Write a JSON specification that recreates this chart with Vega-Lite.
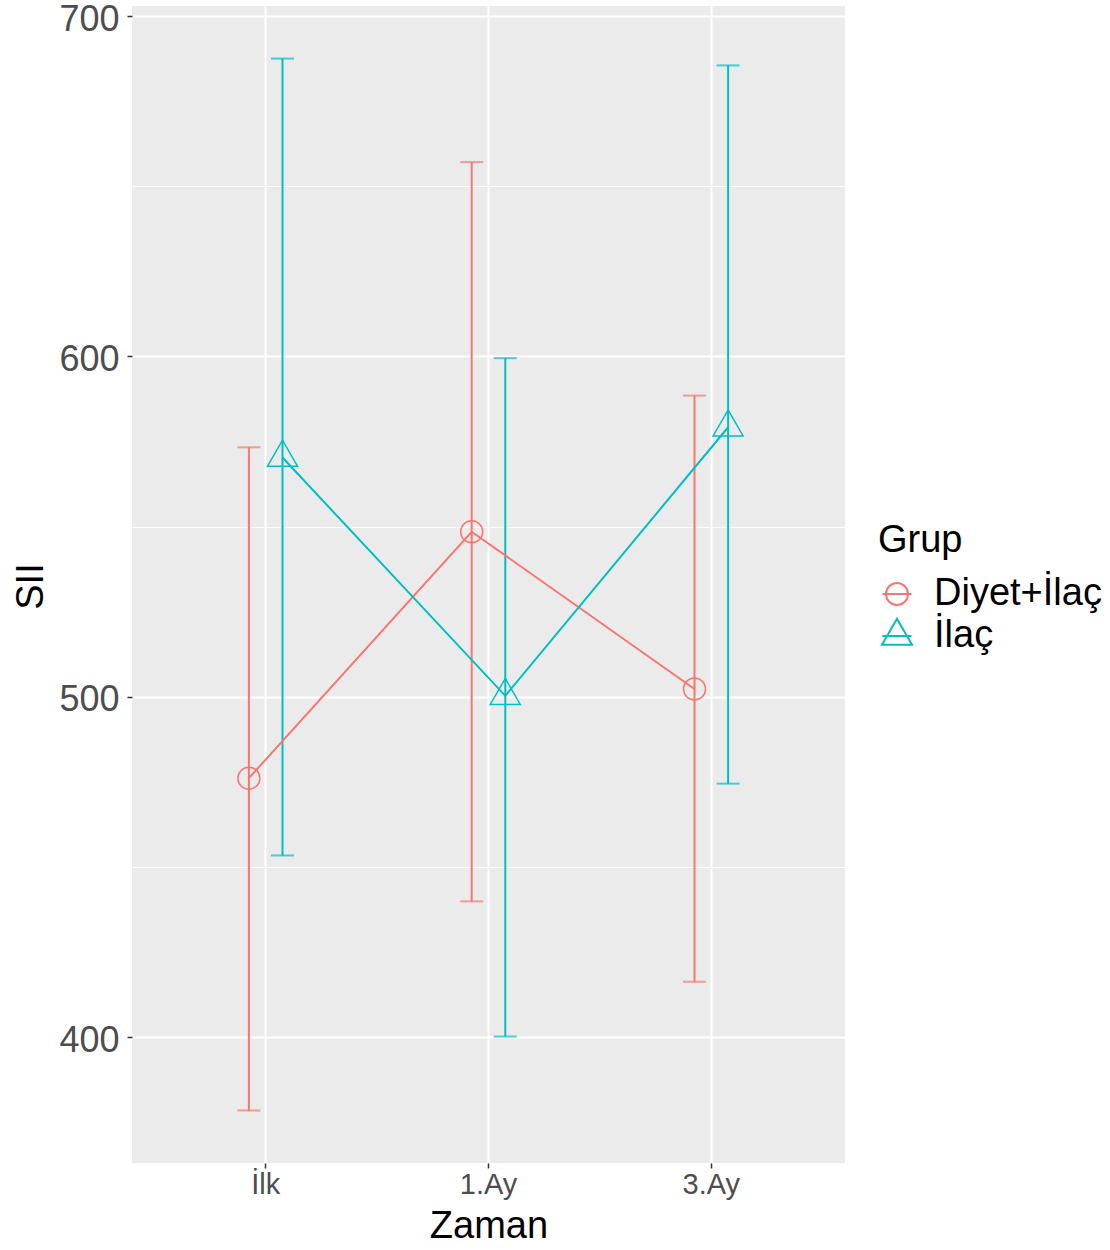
{
  "$schema": "https://vega.github.io/schema/vega-lite/v6.json",
  "autosize": {"type": "none"},
  "width": 713,
  "height": 1157,
  "padding": {"left": 132, "top": 6, "right": 265, "bottom": 87},
  "background": "#FFFFFF",
  "data": {
    "values": [
      {"grup": "Diyet+İlaç", "zaman": "İlk", "ortalama": 476.1, "alt": 378.5, "ust": 573.3},
      {"grup": "Diyet+İlaç", "zaman": "1.Ay", "ortalama": 548.5, "alt": 439.9, "ust": 657.1},
      {"grup": "Diyet+İlaç", "zaman": "3.Ay", "ortalama": 502.3, "alt": 416.3, "ust": 588.5},
      {"grup": "İlaç", "zaman": "İlk", "ortalama": 570.3, "alt": 453.4, "ust": 687.5},
      {"grup": "İlaç", "zaman": "1.Ay", "ortalama": 500.3, "alt": 400.2, "ust": 599.5},
      {"grup": "İlaç", "zaman": "3.Ay", "ortalama": 579.2, "alt": 474.5, "ust": 685.5}
    ]
  },
  "encoding": {
    "x": {
      "field": "zaman",
      "type": "nominal",
      "sort": ["İlk", "1.Ay", "3.Ay"],
      "scale": {"type": "band", "paddingInner": 0.6, "paddingOuter": 0.4},
      "axis": {
        "bandPosition": 0.5,
        "grid": true,
        "gridWidth": 2,
        "labelAngle": 0,
        "labelFontSize": 29,
        "labelPadding": 2,
        "title": "Zaman",
        "titleFontSize": 38,
        "titleY": 74,
        "titleBaseline": "alphabetic"
      }
    },
    "xOffset": {
      "field": "grup",
      "type": "nominal",
      "sort": ["Diyet+İlaç", "İlaç"],
      "scale": {"paddingInner": 0, "paddingOuter": 0.326}
    },
    "color": {
      "field": "grup",
      "type": "nominal",
      "sort": ["Diyet+İlaç", "İlaç"],
      "scale": {"domain": ["Diyet+İlaç", "İlaç"], "range": ["#F8766D", "#00BFC4"]},
      "legend": null
    }
  },
  "layer": [
    {
      "mark": {"type": "rule", "strokeWidth": 2},
      "encoding": {
        "y": {
          "field": "alt",
          "type": "quantitative",
          "scale": {"domain": [363.05, 702.95], "nice": false, "zero": false},
          "axis": {
            "values": [400, 450, 500, 550, 600, 650, 700],
            "labelExpr": "datum.value % 100 === 0 ? datum.label : ''",
            "labelFontSize": 36,
            "labelPadding": 8,
            "labelOffset": 3,
            "labelFlush": false,
            "labelOverlap": false,
            "grid": true,
            "gridWidth": {"condition": {"test": "datum.value % 100 !== 0", "value": 1}, "value": 2},
            "tickOpacity": {"condition": {"test": "datum.value % 100 !== 0", "value": 0}, "value": 1},
            "title": "SII",
            "titleFontSize": 38,
            "titleAngle": -90,
            "titleX": -90,
            "titleY": 580,
            "titleAlign": "center",
            "titleBaseline": "alphabetic"
          }
        },
        "y2": {"field": "ust"}
      }
    },
    {
      "mark": {"type": "tick", "size": 23, "thickness": 2},
      "encoding": {
        "y": {"field": "alt", "type": "quantitative", "title": "SII"}
      }
    },
    {
      "mark": {"type": "tick", "size": 23, "thickness": 2},
      "encoding": {
        "y": {"field": "ust", "type": "quantitative", "title": "SII"}
      }
    },
    {
      "mark": {"type": "line", "strokeWidth": 2},
      "encoding": {
        "y": {"field": "ortalama", "type": "quantitative", "title": "SII"}
      }
    },
    {
      "mark": {"type": "point", "filled": false, "size": 900, "strokeWidth": 1.5, "opacity": 1},
      "encoding": {
        "y": {"field": "ortalama", "type": "quantitative", "title": "SII"},
        "shape": {
          "field": "grup",
          "type": "nominal",
          "sort": ["Diyet+İlaç", "İlaç"],
          "scale": {
            "domain": ["Diyet+İlaç", "İlaç"],
            "range": [
              "M0.733,0C0.733,0.405,0.405,0.733,0,0.733C-0.405,0.733,-0.733,0.405,-0.733,0C-0.733,-0.405,-0.405,-0.733,0,-0.733C0.405,-0.733,0.733,-0.405,0.733,0Z",
              "M0,-1.155L1,0.577L-1,0.577Z"
            ]
          },
          "legend": null
        }
      }
    },
    {
      "description": "Legend keys: point symbol with the connecting line drawn through it",
      "mark": {"type": "point", "filled": false, "opacity": 0},
      "encoding": {
        "y": {"field": "ortalama", "type": "quantitative", "title": "SII"},
        "color": {
          "field": "grup",
          "type": "nominal",
          "sort": ["Diyet+İlaç", "İlaç"],
          "scale": {"domain": ["Diyet+İlaç", "İlaç"], "range": ["#F8766D", "#00BFC4"]},
          "legend": {
            "title": "Grup",
            "orient": "none",
            "legendX": 746,
            "legendY": 516,
            "padding": 0,
            "titleFontSize": 38,
            "titleFontWeight": "normal",
            "titleColor": "#000000",
            "titlePadding": 15,
            "labelFontSize": 38,
            "labelColor": "#000000",
            "labelOffset": 18,
            "labelLimit": 0,
            "symbolSize": 400,
            "symbolStrokeWidth": 2,
            "symbolOpacity": 1,
            "rowPadding": 1
          }
        },
        "shape": {
          "field": "grup",
          "type": "nominal",
          "sort": ["Diyet+İlaç", "İlaç"],
          "scale": {
            "domain": ["Diyet+İlaç", "İlaç"],
            "range": [
              "M1.1,0C1.1,0.6075,0.6075,1.1,0,1.1C-0.6075,1.1,-1.1,0.6075,-1.1,0C-1.1,-0.6075,-0.6075,-1.1,0,-1.1C0.6075,-1.1,1.1,-0.6075,1.1,0Z M-1.45,0L1.45,0",
              "M0,-1.732L1.5,0.866L-1.5,0.866Z M-1.45,0L1.45,0"
            ]
          },
          "legend": {
            "title": "Grup",
            "orient": "none",
            "legendX": 746,
            "legendY": 516,
            "padding": 0,
            "titleFontSize": 38,
            "titleFontWeight": "normal",
            "titleColor": "#000000",
            "titlePadding": 15,
            "labelFontSize": 38,
            "labelColor": "#000000",
            "labelOffset": 18,
            "labelLimit": 0,
            "symbolSize": 400,
            "symbolStrokeWidth": 2,
            "symbolOpacity": 1,
            "rowPadding": 1
          }
        }
      }
    }
  ],
  "resolve": {"scale": {"shape": "independent", "color": "independent"}},
  "config": {
    "font": "Liberation Sans",
    "view": {"fill": "#EBEBEB", "stroke": null},
    "axis": {
      "domain": false,
      "tickColor": "#333333",
      "tickSize": 5,
      "tickWidth": 1.5,
      "labelColor": "#4D4D4D",
      "titleColor": "#000000",
      "titleFontWeight": "normal",
      "gridColor": "#FFFFFF",
      "gridOpacity": 1
    }
  }
}
